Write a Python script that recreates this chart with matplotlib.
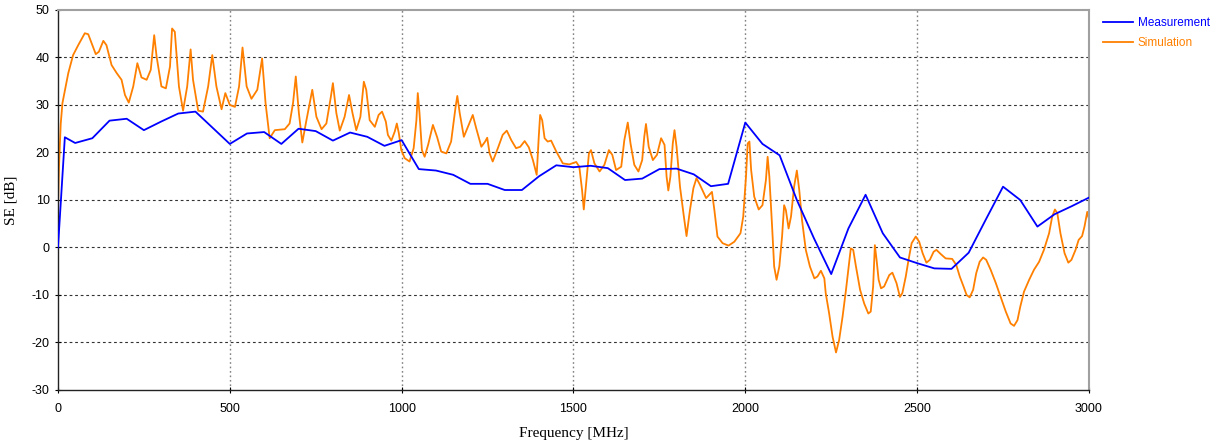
import matplotlib
matplotlib.use("Agg")
import matplotlib.pyplot as plt


# Measurement (every 50 MHz)
meas_freq = [0, 20] + list(range(50, 3001, 50))
meas_se = [0.0, 23.2, 22.0, 23.0, 26.7, 27.1, 24.7, 26.5, 28.2, 28.6,
           25.2, 21.8, 24.0, 24.3, 21.8, 25.0, 24.5, 22.5, 24.2, 23.3,
           21.4, 22.6, 16.5, 16.2, 15.3, 13.4, 13.4, 12.1, 12.1, 15.0,
           17.3, 16.9, 17.2, 16.7, 14.2, 14.5, 16.5, 16.6, 15.4, 12.9,
           13.4, 26.3, 21.8, 19.4, 10.0, 1.9, -5.6, 4.0, 11.1, 3.0,
           -2.1, -3.3, -4.4, -4.5, -1.1, 5.9, 12.8, 10.0, 4.4, 7.0,
           8.7, 10.5]

# Simulation
sim_freq = [0, 3, 8, 13, 30, 44, 59, 78, 88, 98, 110, 119, 132, 141, 156,
            171, 185, 195, 206, 219, 231, 243, 258, 270, 280, 287, 301,
            314, 326, 332, 340, 352, 364, 376, 386, 393, 408, 422, 437,
            449, 461, 476, 487, 500, 515, 527, 537, 549, 563, 580, 594,
            604, 616, 631, 660, 674, 684, 692, 701, 711, 723, 740, 752,
            767, 781, 794, 800, 810, 820, 834, 847, 857, 868, 880, 890,
            897, 907, 922, 933, 943, 954, 960, 970, 980, 986, 992, 999,
            1009, 1023, 1035, 1043, 1047, 1052, 1059, 1067, 1077, 1091,
            1103, 1115, 1130, 1144, 1157, 1162, 1169, 1181, 1193, 1207,
            1217, 1232, 1243, 1249, 1256, 1265, 1280, 1294, 1306, 1319,
            1333, 1345, 1358, 1370, 1382, 1393, 1399, 1403, 1409, 1416,
            1425, 1435, 1450, 1469, 1488, 1508, 1517, 1525, 1530, 1537,
            1545, 1551, 1561, 1576, 1590, 1603, 1613, 1624, 1639, 1648,
            1658, 1666, 1677, 1689, 1700, 1706, 1711, 1719, 1731, 1743,
            1755, 1765, 1771, 1776, 1782, 1789, 1794, 1800, 1810, 1820,
            1829, 1839, 1849, 1858, 1868, 1886, 1895, 1903, 1910, 1919,
            1934, 1951, 1968, 1986, 1994, 2002, 2007, 2012, 2017, 2026,
            2039, 2050, 2060, 2065, 2070, 2078, 2084, 2091, 2099, 2107,
            2113, 2118, 2126, 2133, 2142, 2150, 2157, 2165, 2176, 2188,
            2201, 2210, 2220, 2230, 2234, 2244, 2254, 2264, 2273, 2283,
            2293, 2302, 2307, 2314, 2322, 2334, 2346, 2358, 2365, 2372,
            2377, 2382, 2388, 2395, 2404, 2419, 2428, 2440, 2450, 2457,
            2467, 2475, 2484, 2496, 2506, 2516, 2527, 2537, 2548, 2556,
            2569, 2583, 2602, 2614, 2624, 2635, 2644, 2653, 2663, 2672,
            2682, 2692, 2701, 2714, 2729, 2743, 2758, 2772, 2782, 2792,
            2800, 2811, 2826, 2840, 2855, 2869, 2884, 2893, 2901, 2908,
            2917, 2929, 2940, 2949, 2961, 2970, 2980, 2987, 2995, 3000]
sim_se = [8.0, 17.0, 26.0, 30.4, 36.7, 40.5, 42.6, 45.1, 44.9, 43.0, 40.7,
          41.2, 43.5, 42.6, 38.4, 36.7, 35.3, 32.1, 30.5, 33.9, 38.8, 35.8,
          35.3, 37.4, 44.7, 40.2, 33.9, 33.5, 38.1, 46.1, 45.4, 33.9, 28.8,
          33.9, 41.7, 35.3, 28.8, 28.6, 33.9, 40.5, 33.9, 29.1, 32.5, 30.0,
          29.6, 33.9, 42.1, 33.9, 31.3, 33.2, 39.8, 30.4, 23.0, 24.7, 24.9,
          26.1, 30.4, 36.0, 28.3, 22.1, 26.8, 33.2, 27.5, 24.9, 26.1, 31.7,
          34.6, 28.3, 24.6, 27.5, 32.1, 28.3, 24.7, 27.5, 34.9, 33.2, 26.8,
          25.4, 27.9, 28.6, 26.5, 23.7, 22.5, 24.4, 26.1, 24.0, 20.5, 18.8,
          18.1, 20.9, 26.8, 32.5, 28.3, 20.5, 19.1, 21.6, 25.8, 23.3, 20.2,
          19.8, 22.3, 29.6, 31.9, 28.3, 23.3, 25.4, 27.9, 25.1, 21.2, 22.3,
          23.1, 19.8, 18.1, 20.9, 23.7, 24.6, 22.6, 20.9, 21.2, 22.4, 21.1,
          18.4, 15.3, 23.3, 27.9, 26.8, 23.0, 22.3, 22.5, 20.2, 17.7, 17.5,
          18.0, 17.0, 12.1, 8.0, 13.5, 19.8, 20.5, 17.7, 16.0, 17.4, 20.5,
          19.5, 16.3, 17.0, 22.6, 26.3, 21.9, 17.4, 16.0, 18.4, 23.3, 26.0,
          21.2, 18.4, 19.5, 23.0, 21.6, 14.9, 12.0, 14.9, 21.9, 24.7, 21.2,
          12.8, 7.2, 2.4, 7.9, 12.5, 14.6, 13.2, 10.4, 11.1, 11.7, 7.9, 2.3,
          0.9, 0.4, 1.2, 3.0, 6.5, 14.9, 21.9, 22.3, 16.3, 10.7, 8.0, 8.9,
          14.2, 19.1, 14.9, 4.4, -4.0, -6.8, -4.0, 2.3, 8.9, 7.9, 4.0, 6.5,
          12.8, 16.2, 12.1, 5.8, -0.5, -4.0, -6.5, -6.1, -4.9, -6.5, -9.6,
          -13.9, -18.8, -22.1, -19.5, -14.6, -8.9, -3.3, -0.2, -0.5, -4.0,
          -8.9, -11.8, -13.9, -13.5, -8.2, 0.5, -2.6, -6.8, -8.6, -8.2,
          -5.8, -5.3, -7.5, -10.4, -9.6, -6.1, -2.6, 0.9, 2.3, 1.2, -1.2,
          -3.2, -2.6, -0.9, -0.5, -1.4, -2.3, -2.4, -3.7, -6.1, -8.2, -10.0,
          -10.5, -8.9, -5.4, -3.0, -2.1, -2.6, -4.7, -7.5, -10.4, -13.5,
          -16.0, -16.5, -15.3, -12.5, -9.3, -6.8, -4.7, -3.0, -0.5, 3.0,
          6.5, 8.0, 7.2, 3.0, -1.2, -3.2, -2.6, -0.5, 1.6, 2.4, 4.4, 7.5,
          6.0]

x_ticks = [0, 500, 1000, 1500, 2000, 2500, 3000]
y_ticks = [-30, -20, -10, 0, 10, 20, 30, 40, 50]


def generate_plot():
    """
    Draw the shielding effectiveness plot
    """
    plt.rcParams["axes.unicode_minus"] = False

    fig = plt.figure(figsize=(12.23, 4.45), dpi=100)
    ax = fig.add_axes([0.0474, 0.1236, 0.8430, 0.8540])

    ax.plot(meas_freq, meas_se, color="#0000ff", lw=1.3,
            label="Measurement", zorder=3)
    ax.plot(sim_freq, sim_se, color="#ff8000", lw=1.3,
            label="Simulation", zorder=2)

    ax.set_xlim(0, 3000)
    ax.set_ylim(-30, 50)
    ax.set_xticks(x_ticks)
    ax.set_yticks(y_ticks)

    # Grid: horizontal dashed dark, vertical dotted gray
    for y in y_ticks[1:-1]:
        ax.axhline(y, color="#333333", lw=0.8, ls=(0, (2.5, 2.5)), zorder=1)
    for x in x_ticks[1:-1]:
        ax.axvline(x, color="#808080", lw=1.0, ls=(0, (1.2, 2)), zorder=1)

    for side in ["top", "right"]:
        ax.spines[side].set_color("#a0a0a0")
        ax.spines[side].set_linewidth(1.5)
    for side in ["left", "bottom"]:
        ax.spines[side].set_color("#222222")
        ax.spines[side].set_linewidth(1.0)

    ax.tick_params(direction="inout", length=5, width=0.8, labelsize=9)
    ax.tick_params(axis="x", pad=7)
    for lab in ax.get_xticklabels() + ax.get_yticklabels():
        lab.set_fontfamily("Liberation Sans")

    ax.set_xlabel("Frequency [MHz]", family="Liberation Serif", fontsize=11)
    ax.set_ylabel("SE [dB]", family="Liberation Serif", fontsize=11)
    ax.xaxis.set_label_coords(0.5, -0.098)
    ax.yaxis.set_label_coords(-0.039, 0.5)

    fig.legend(loc="upper left", bbox_to_anchor=(0.902, 0.962),
               frameon=False, labelcolor="linecolor", handlelength=2.5,
               handletextpad=0.42, labelspacing=0.68, borderpad=0,
               borderaxespad=0,
               prop={"family": "Liberation Sans", "size": 8.5})

    fig.savefig("out.png", dpi=100)


if __name__ == "__main__":
    generate_plot()
